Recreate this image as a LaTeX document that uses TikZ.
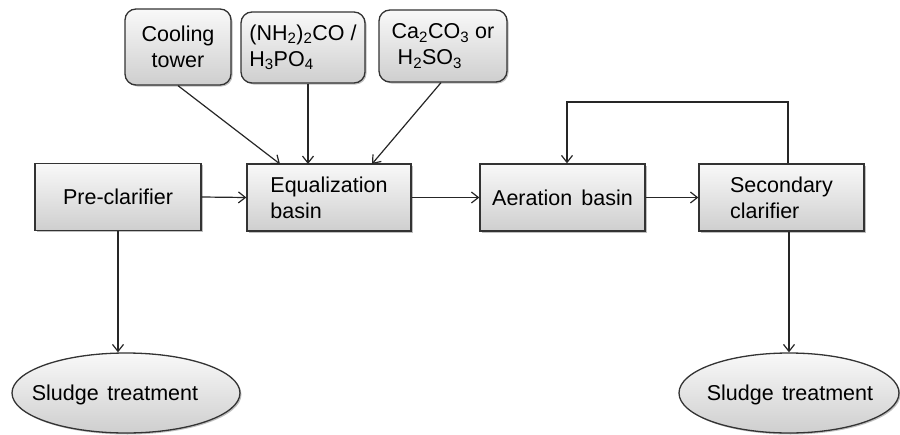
\documentclass[tikz,border=0pt]{standalone}
\usepackage{fontspec}
\setmainfont{Liberation Sans}
\usetikzlibrary{arrows.meta,shapes.geometric,shadows}
\begin{document}
\begin{tikzpicture}[x=1pt,y=-1pt,
  font=\fontsize{21.5}{26}\selectfont,
  boxfill/.style={draw=black!80, line width=1.3pt, top color=gray!5, bottom color=gray!38,
    drop shadow={shadow xshift=1.5pt,shadow yshift=-1.5pt,opacity=0.25,fill=black}},
  proc/.style={boxfill, rectangle, inner sep=0pt},
  feed/.style={boxfill, rectangle, rounded corners=11pt, inner sep=0pt},
  sink/.style={boxfill, ellipse, inner sep=0pt},
  flow/.style={draw=black!85, line width=1.2pt, -{Straight Barb[length=7pt,width=11pt]}}
]
\useasboundingbox (0,0) rectangle (900,434);

% chemical / utility feeds
\node[feed, minimum width=106pt, minimum height=76pt, align=center] (cool) at (178,47) {Cooling\\tower};
\node[feed, minimum width=124pt, minimum height=71pt, align=left] (urea) at (303,47.5)
  {(NH\textsubscript{2})\textsubscript{2}CO /\\H\textsubscript{3}PO\textsubscript{4}};
\node[feed, minimum width=128pt, minimum height=72pt, align=left] (lime) at (443,46)
  {Ca\textsubscript{2}CO\textsubscript{3} or\\\hspace{0.28em}H\textsubscript{2}SO\textsubscript{3}};

% main treatment train
\node[proc, minimum width=166pt, minimum height=67pt] (pre) at (118,197) {Pre-clarifier};
\node[proc, minimum width=164pt, minimum height=67pt, align=left] (eq) at (329,197.5) {Equalization\\basin};
\node[proc, minimum width=165pt, minimum height=67pt] (aer) at (562.5,197.5) {Aeration\hspace{0.15em} basin};
\node[proc, minimum width=165pt, minimum height=67pt, align=left] (sec) at (781.5,197.5) {Secondary\\clarifier};

% sludge handling (shape sized explicitly, caption placed as a label)
\node[sink, minimum width=228pt, minimum height=80pt,
  label={[xshift=-11pt,yshift=-2pt]center:Sludge\hspace{0.12em} treatment}] (sl1) at (126,393) {};
\node[sink, minimum width=220pt, minimum height=80pt,
  label={[xshift=1pt,yshift=-2pt]center:Sludge\hspace{0.12em} treatment}] (sl2) at (789,393) {};

% connection points
\coordinate (eqA) at (280,164);
\coordinate (eqB) at (308,164);
\coordinate (eqC) at (372,164);
\coordinate (fbR) at (788,102);
\coordinate (fbL) at (567,102);

% flows
\draw[flow] (cool.south) -- (eqA);
\draw[flow] (urea.south -| eqB) -- (eqB);
\draw[flow] ([xshift=-2pt]lime.south) -- (eqC);
\draw[flow] (pre.east) -- (eq.west);
\draw[flow] (eq.east) -- (aer.west);
\draw[flow] (aer.east) -- (sec.west);
\draw[flow] (fbR |- sec.north) -- (fbR) -- (fbL) -- (fbL |- aer.north);
\draw[flow] (pre.south) -- (pre.south |- sl1.north);
\draw[flow] (sl2.north |- sec.south) -- (sl2.north);
\end{tikzpicture}
\end{document}
